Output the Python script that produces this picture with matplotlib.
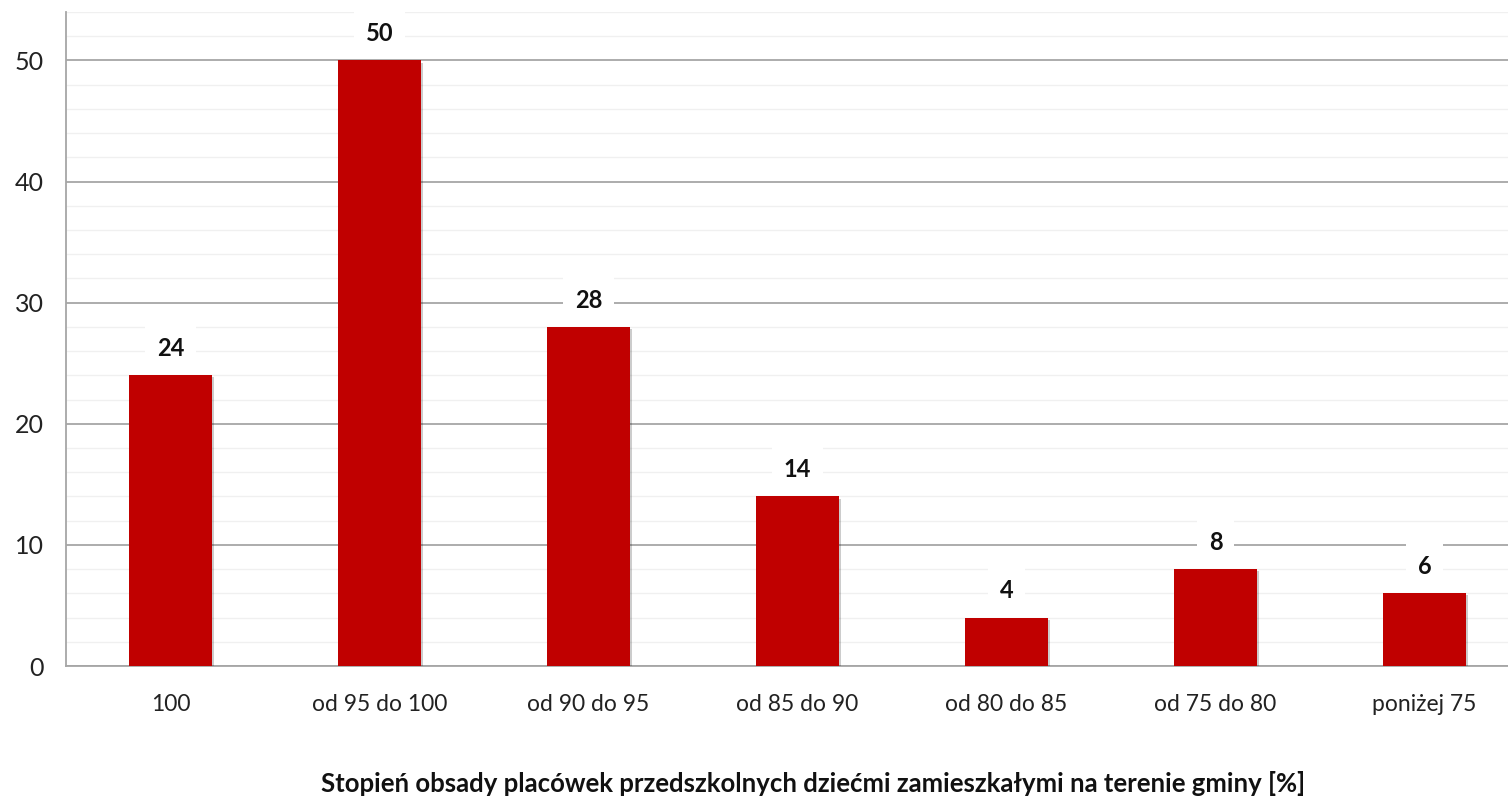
import matplotlib
matplotlib.use("Agg")
import matplotlib.pyplot as plt
import matplotlib.patheffects as pe
from matplotlib.ticker import MultipleLocator

categories = ["100", "od 95 do 100", "od 90 do 95", "od 85 do 90",
              "od 80 do 85", "od 75 do 80", "poniżej 75"]
values = [24, 50, 28, 14, 4, 8, 6]
x_title = "Stopień obsady placówek przedszkolnych dziećmi zamieszkałymi na terenie gminy [%]"

plt.rcParams["font.family"] = ["Lato", "DejaVu Sans"]

W, H = 1508, 800
fig = plt.figure(figsize=(W / 100, H / 100), dpi=100)
ax = fig.add_axes([66 / W, (H - 666) / H, 1463 / W, (666 - 12) / H])

xs = range(len(categories))
bars = ax.bar(xs, values, width=0.4, color="#c00000", zorder=3)
for b in bars:
    b.set_path_effects([pe.SimplePatchShadow(offset=(1.5, -1.5), shadow_rgbFace="#000000", alpha=0.2),
                        pe.Normal()])

ax.set_xlim(-0.5, len(categories) - 0.5)
ax.set_ylim(0, 54)
ax.yaxis.set_major_locator(MultipleLocator(10))
ax.yaxis.set_minor_locator(MultipleLocator(2))
ax.grid(which="major", axis="y", color="#a6a6a6", linewidth=1.3, zorder=1)
ax.grid(which="minor", axis="y", color="#f0f0f0", linewidth=1.0, zorder=0)
ax.set_axisbelow(True)

for s in ["top", "right"]:
    ax.spines[s].set_visible(False)
for s in ["left", "bottom"]:
    ax.spines[s].set_color("#a6a6a6")
    ax.spines[s].set_linewidth(1.3)

ax.set_xticks(list(xs))
ax.set_xticklabels(categories, fontsize=16.5, color="#222222")
ax.tick_params(axis="x", length=0, pad=20)
ax.tick_params(axis="y", which="both", length=0, pad=16, labelsize=18, labelcolor="#222222")

for xi, v in zip(xs, values):
    ax.annotate(str(v), (xi, v), xytext=(0, 11), textcoords="offset points",
                ha="center", va="bottom", fontsize=17, fontweight="bold", color="#111111",
                bbox=dict(boxstyle="square,pad=0.5", fc="white", ec="none"), zorder=4)

fig.text(813 / W, 1 - 783 / H, x_title, ha="center", va="center",
         fontsize=18.5, fontweight="bold", color="#111111")

fig.savefig("out.png", dpi=100, facecolor="white")
